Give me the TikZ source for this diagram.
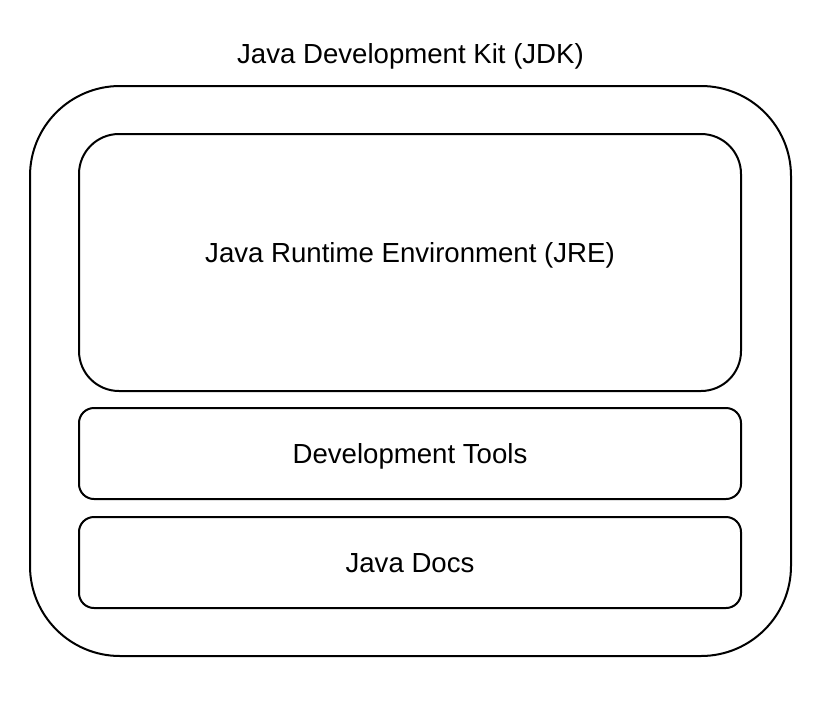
\documentclass[tikz,border=0pt]{standalone}
\usepackage{fontspec}
\setmainfont{Liberation Sans}
\begin{document}
\begin{tikzpicture}[x=1pt,y=-1pt,
  box/.style={draw=black,line width=2pt},
  lbl/.style={anchor=base,inner sep=0pt,font=\fontsize{27.6}{33}\selectfont}]
\useasboundingbox (0,0) rectangle (830,702);
\fill[white] (0,0) rectangle (830,702);
\draw[box,rounded corners=90pt] (30,86) rectangle (791,656);
\draw[box,rounded corners=40pt] (79,134) rectangle (741,391);
\draw[box,rounded corners=15pt] (79,408) rectangle (741,499);
\draw[box,rounded corners=15pt] (79,517) rectangle (741,608);
\node[lbl] (jdk) at (410.5,63) {Java Development Kit (JDK)};
\node[lbl] (jre) at (410,262) {Java Runtime Environment (JRE)};
\node[lbl] (dev) at (410,463) {Development Tools};
\node[lbl] (doc) at (410,572) {Java Docs};
\end{tikzpicture}
\end{document}
